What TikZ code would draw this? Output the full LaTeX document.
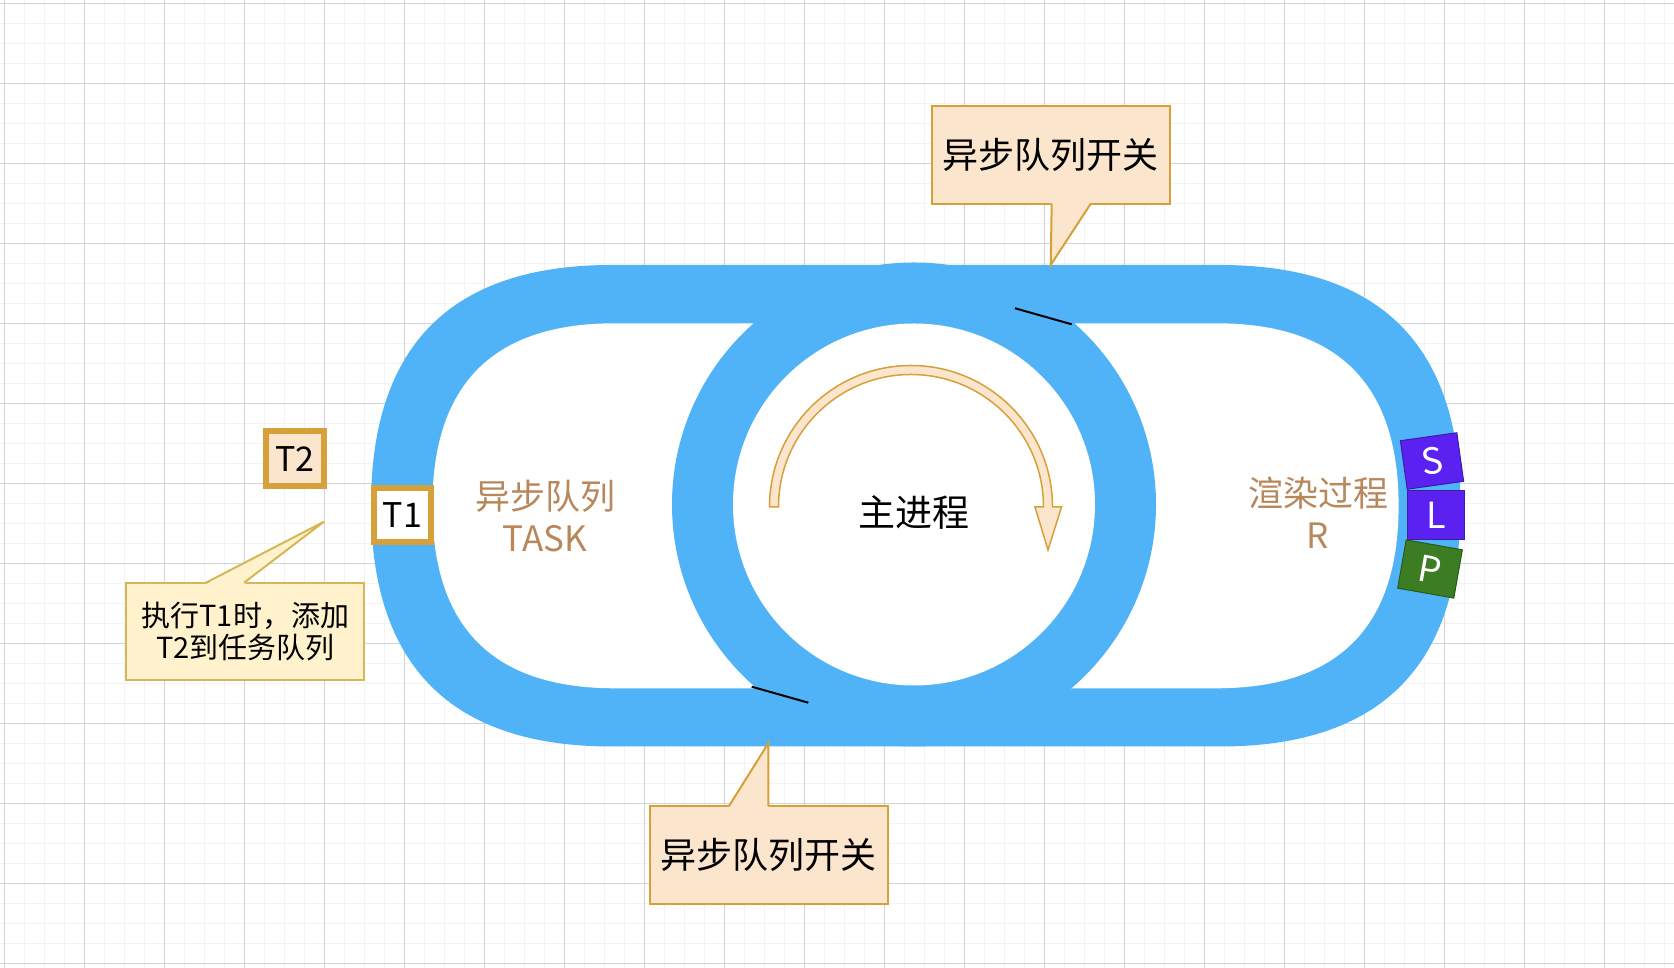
\documentclass[tikz,border=0pt]{standalone}
\usepackage{fontspec}
\setmainfont{Noto Sans CJK SC}
\usetikzlibrary{positioning}
\definecolor{ringblue}{RGB}{81,179,247}
\definecolor{peach}{RGB}{251,229,205}
\definecolor{golden}{RGB}{214,160,58}
\definecolor{notefill}{RGB}{255,242,204}
\definecolor{notedraw}{RGB}{214,182,86}
\definecolor{taskbrown}{RGB}{184,135,92}
\definecolor{slviolet}{RGB}{91,33,240}
\definecolor{slvioletdark}{RGB}{58,29,168}
\definecolor{pgreen}{RGB}{60,125,35}
\definecolor{pgreendark}{RGB}{42,90,24}
\definecolor{minorline}{RGB}{242,243,247}
\definecolor{majorline}{RGB}{210,210,216}

\begin{document}
\begin{tikzpicture}[x=1pt,y=1pt]
        \tikzset{callbox/.style={draw=golden, fill=peach, line width=2pt, outer sep=0pt, inner sep=0pt,
                minimum width=238pt, minimum height=98pt, font=\fontsize{36}{42}\selectfont},
        notebox/.style={draw=notedraw, fill=notefill, line width=2pt, outer sep=0pt, inner sep=0pt,
                minimum width=238pt, minimum height=97pt, align=center, font=\fontsize{29}{32}\selectfont},
        tbox/.style={draw=golden, line width=6pt, inner sep=0pt, minimum width=58pt, minimum height=55pt,
                font=\fontsize{34}{40}\selectfont},
        lane/.style={text=taskbrown, align=center, font=\fontsize{35}{42}\selectfont},
        stage/.style={draw, line width=1pt, inner sep=0pt, minimum width=57pt, minimum height=49pt,
                text=white, font=\fontsize{36}{40}\selectfont},
        turnarrow/.style={draw=golden, fill=peach, line width=1.5pt, line join=miter}
        }
        \useasboundingbox (0,0) rectangle (1674,968);
        \fill[white] (0,0) rectangle (1674,968);

%% grid
        \draw[minorline, line width=1pt, step=20, shift={(4,4)}] (-4,-4) grid (1670,964);
        \draw[majorline, line width=1pt, step=80, shift={(4,4)}] (-4,-4) grid (1670,964);

%% track (corners are quadratic curves)
        \fill[ringblue] (611.75,703) -- (1219.75,703) .. controls +(160.5,0) and +(0,160.5) .. (1460.5,462.25)
            .. controls +(0,-160.5) and +(160.5,0) .. (1219.75,221.5) -- (611.75,221.5)
            .. controls +(-160.5,0) and +(0,-160.5) .. (371,462.25)
            .. controls +(0,160.5) and +(-160.5,0) .. (611.75,703) -- cycle;
        \fill[white] (614.9,644.7) -- (1216.1,644.7) .. controls +(121.7,0) and +(0,121.7) .. (1398.6,462.2)
            .. controls +(0,-121.7) and +(121.7,0) .. (1216.1,279.7) -- (614.9,279.7)
            .. controls +(-121.7,0) and +(0,-121.7) .. (432.4,462.2)
            .. controls +(0,121.7) and +(-121.7,0) .. (614.9,644.7) -- cycle;
        \fill[ringblue] (914,463.5) circle[radius=242];
        \fill[white] (914,463.5) circle[radius=181];

%% switch marks
        \coordinate (marktopa) at (1015,659.7);
        \coordinate (marktopb) at (1071.7,643.7);
        \coordinate (markbota) at (751.7,281.3);
        \coordinate (markbotb) at (808.3,265.3);
        \draw[black, line width=2pt] (marktopa) -- (marktopb);
        \draw[black, line width=2pt] (markbota) -- (markbotb);

%% main loop arrow
        \draw[turnarrow] (769.5,461) arc[start angle=180, end angle=0, radius=141.5] -- (1061.5,461)
            -- (1048,418) -- (1035,461) -- (1043.5,461) arc[start angle=0, end angle=180, radius=132.5] -- cycle;

        \node (mainproc) at (914,455.5) {\fontsize{37}{42}\selectfont 主进程};
        \node [lane] (taskq) at (545,452) {异步队列\\TASK};
        \node [lane] (render) at (1318,455) {渲染过程\\R};

%% S L P
        \node [stage, fill=slviolet, draw=slvioletdark] (lbox) at (1436,453) {L};
        \node [stage, fill=slviolet, draw=slvioletdark, rotate=8] (sbox) at (1432,507) {S};
        \node [stage, fill=pgreen, draw=pgreendark, rotate=-10] (pbox) at (1430,399) {P};

%% tasks
        \node [tbox, fill=white, minimum width=57.6pt, minimum height=54pt] (t1) at (402.5,453) {T1};
        \node [tbox, fill=peach, minimum width=58.6pt, above left=-4.3pt and 43.4pt of t1] (t2) {T2};

%% callouts
        \node [callbox] (swtop) at (1050.7,813.2) {异步队列开关};
        \coordinate (swtoptip) at (1050.7,703);
        \fill[peach] ([xshift=1pt,yshift=1.5pt]swtop.south) -- (swtoptip) -- ([xshift=40pt,yshift=1.5pt]swtop.south) -- cycle;
        \draw[golden, line width=2pt] ([xshift=1pt]swtop.south) -- (swtoptip) -- ([xshift=40pt]swtop.south);

        \node [callbox] (swbot) at (768.8,113) {异步队列开关};
        \coordinate (swbottip) at (768.3,224.7);
        \fill[peach] ([xshift=-39.8pt,yshift=-1.5pt]swbot.north) -- (swbottip) -- ([xshift=-0.5pt,yshift=-1.5pt]swbot.north) -- cycle;
        \draw[golden, line width=2pt] ([xshift=-39.8pt]swbot.north) -- (swbottip) -- ([xshift=-0.5pt]swbot.north);

        \node [notebox] (note) at (245.3,336.8) {执行T1时，添加\\T2到任务队列};
        \coordinate (notetip) at (324,446.3);
        \fill[notefill] ([xshift=-39.3pt,yshift=-1.5pt]note.north) -- (notetip) -- ([xshift=-1.3pt,yshift=-1.5pt]note.north) -- cycle;
        \draw[notedraw, line width=2pt] ([xshift=-39.3pt]note.north) -- (notetip) -- ([xshift=-1.3pt]note.north);
\end{tikzpicture}
\end{document}
